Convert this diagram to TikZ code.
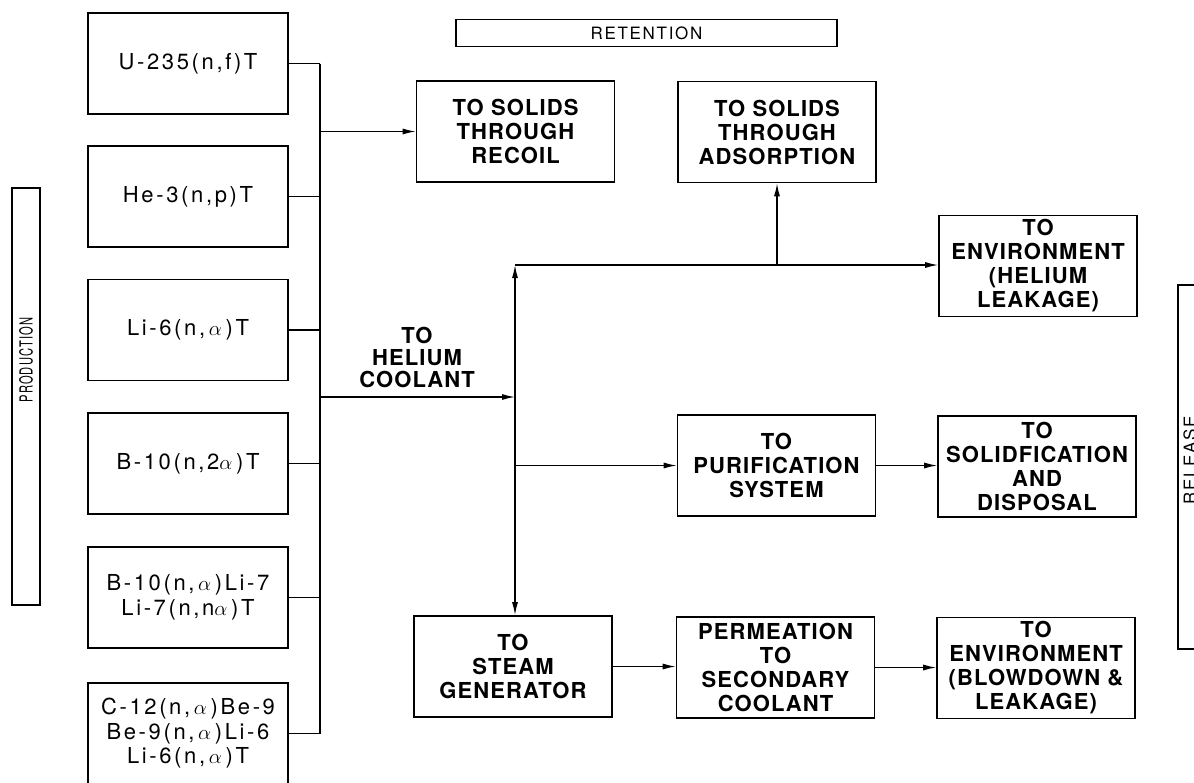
\documentclass[tikz,border=0pt]{standalone}
\usepackage{graphicx}
\usepackage{fontspec}
\setmainfont{TeX Gyre Heros}
\newfontfamily\boxfont[LetterSpace=5]{TeX Gyre Heros}
\newfontfamily\srcfont[LetterSpace=12]{TeX Gyre Heros}
\newfontfamily\tagfont[LetterSpace=10]{TeX Gyre Heros}
\usetikzlibrary{arrows.meta,positioning}

\begin{document}
\begin{tikzpicture}[x=1pt,y=-1pt,
    box/.style={draw,line width=1.6pt,minimum width=198pt,minimum height=101pt,inner sep=0pt,align=center,
        font=\boxfont\bfseries\fontsize{22}{24}\selectfont},
    srcbox/.style={box,minimum width=200pt,font=\srcfont\fontsize{22}{24.5}\selectfont},
    tagbox/.style={draw,line width=1.6pt,inner sep=0pt},
    tagtext/.style={inner sep=0pt,font=\tagfont\fontsize{17}{17}\selectfont},
    flow/.style={line width=1.3pt},
    >={Latex[length=13pt,width=6pt]}]
    \useasboundingbox (0,0) rectangle (1194,782);
    \clip (0,0) rectangle (1194,782);

    % Stage labels
    \node[tagbox,minimum width=381pt,minimum height=27pt] (retention) at (646.5,33) {};
    \node[tagtext] (retentiontxt) at (retention) {RETENTION};
    \node[tagbox,minimum width=28pt,minimum height=417pt] (production) at (26,396.5) {};
    \node[tagtext,rotate=90,font=\tagfont\fontsize{18}{18}\selectfont] (productiontxt) at (26,360)
        {\scalebox{0.62}[1]{PRODUCTION}};
    \node[tagbox,minimum width=28pt,minimum height=364pt] (release) at (1192,467) {};
    \node[tagtext,rotate=90] (releasetxt) at (1190,460) {RELEASE};

    % Tritium sources
    \node[srcbox] (p1) at (188,63.5) {U-235(n,f)T};
    \node[srcbox] (p2) at (188,196.5) {He-3(n,p)T};
    \node[srcbox] (p3) at (188,330) {Li-6(n,\,$\alpha$\,)T};
    \node[srcbox] (p4) at (188,463.5) {B-10(n,2$\alpha$\,)T};
    \node[srcbox] (p5) at (188,597.5) {B-10(n,\,$\alpha$\,)Li-7\\Li-7(n,n$\alpha$\,)T};
    \node[srcbox] (p6) at (188,733.5) {C-12(n,\,$\alpha$\,)Be-9\\Be-9(n,\,$\alpha$\,)Li-6\\Li-6(n,\,$\alpha$\,)T};

    % Paths
    \node[box] (recoil) at (515.5,131.5) {TO SOLIDS\\THROUGH\\RECOIL};
    \node[box] (adsorb) at (777,132) {TO SOLIDS\\THROUGH\\ADSORPTION};
    \node[box] (envhe) at (1038,266) {TO\\ENVIRONMENT\\(HELIUM\\LEAKAGE)};
    \node[box] (purify) at (776.5,465.5) {TO\\PURIFICATION\\SYSTEM};
    \node[box] (solid) at (1037,466.5) {TO\\SOLIDFICATION\\AND\\DISPOSAL};
    \node[box] (steam) at (513,666.5) {TO\\STEAM\\GENERATOR};
    \node[box] (permeate) at (775.5,667.5) {PERMEATION\\TO\\SECONDARY\\COOLANT};
    \node[box] (envbd) at (1036,668) {TO\\ENVIRONMENT\\(BLOWDOWN \&\\LEAKAGE)};
    \node[align=center,inner sep=0pt,font=\boxfont\bfseries\fontsize{22}{22}\selectfont] (helium) at (417,357) {TO\\HELIUM\\COOLANT};

    % Collecting bus
    \coordinate (bus) at (320,0);
    \coordinate (he) at (515,397);
    \coordinate (top) at (515,265);
    \foreach \n in {1,...,6}
        \draw[flow] (p\n.east) -- (p\n.east -| bus);
    \draw[flow] (p1.east -| bus) -- (p6.east -| bus);
    \draw[flow,->] (recoil.west -| bus) -- (recoil.west);
    \draw[flow,->] (he -| bus) -- (he);

    % Coolant distribution
    \draw[flow,->] (he) -- (top);
    \draw[flow,->] (top) -- (top -| envhe.west);
    \draw[flow,->] (adsorb.south |- top) -- (adsorb.south);
    \draw[flow,->] (he) -- (he |- steam.north);
    \draw[flow,->] (purify.west -| he) -- (purify.west);
    \draw[flow,->] (purify.east) -- (purify.east -| solid.west);
    \draw[flow,->] (steam.east) -- (steam.east -| permeate.west);
    \draw[flow,->] (permeate.east) -- (permeate.east -| envbd.west);
\end{tikzpicture}
\end{document}
